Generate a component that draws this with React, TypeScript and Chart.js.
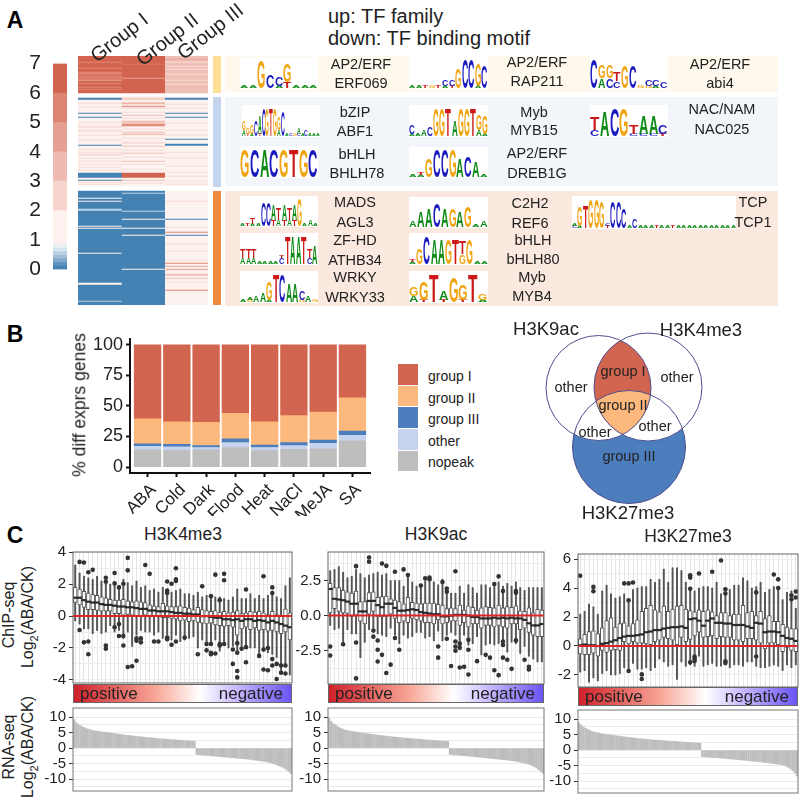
import React, { useEffect, useRef } from "react";
import { Chart, registerables } from "chart.js";

Chart.register(...registerables);

const FONT = '"Liberation Sans", Arial, sans-serif';
const INK = "#222222";

/* ---------- Panel A data ---------- */
const heatColors: Record<number, string> = {
  0: "#4682B4", 1: "#FCF2EF", 2: "#F7DCD6", 3: "#F0BFB4", 4: "#E9A697", 5: "#DF8775", 6: "#D87563", 7: "#D2654F", 8: "#BCD3E6",
};
const colITop = [[7,6],[5,1],[7,5],[5,1],[7,3],[5,2],[6,3],[5,1],[6,2],[4,1],[7,2],[5,1],[7,3],[5,1],[7,1],[5,1],[7,3]];
const colIITop = [[7,8],[6,1],[7,13],[4,1],[7,14]];
const colIIITop = [[3,3],[4,1],[3,2],[2,1],[3,3],[2,1],[3,2],[2,1],[3,4],[2,1],[3,5],[2,1],[3,3],[2,1],[3,8]];
const colIMid = [[1,1],[0,2],[1,3],[2,1],[1,3],[2,1],[1,4],[1,1],[0,1],[1,3],[0,1],[1,4],[2,1],[1,3],[2,1],[2,1],[1,2],[2,2],[1,3],[2,1],[1,4],[2,1],[1,4],[0,1],[1,3],[2,1],[1,2],[2,1],[1,1],[2,2],[1,2],[2,1],[1,2],[2,1],[1,2],[2,1],[1,2],[2,1],[1,2],[2,1],[1,2],[0,5],[1,2],[0,1],[1,1],[2,1],[1,1],[2,1],[1,1]];
const colIIMid = [[2,2],[3,1],[1,2],[2,1],[4,1],[2,1],[1,1],[5,1],[2,2],[1,3],[2,1],[1,2],[3,1],[1,2],[2,1],[1,2],[3,2],[2,1],[5,2],[3,1],[1,2],[2,1],[1,2],[3,1],[1,1],[4,1],[1,3],[2,1],[1,3],[2,2],[1,2],[3,1],[1,3],[2,1],[1,2],[3,1],[1,3],[2,1],[1,3],[3,1],[1,2],[2,1],[1,4],[2,1],[1,3],[7,5],[1,2],[3,1],[1,2],[2,1],[1,2]];
const colIIIMid = [[1,1],[0,2],[1,4],[2,1],[1,3],[2,1],[1,4],[0,1],[1,3],[0,1],[1,5],[2,1],[1,6],[2,1],[1,4],[2,1],[1,3],[0,1],[1,4],[0,2],[1,6],[2,1],[1,5],[2,1],[1,7],[2,1],[1,5],[2,1],[1,3],[2,1],[1,4],[2,1],[1,2],[2,1],[1,1]];
const colILow = [[0,7],[1,1],[0,2],[1,1],[0,7],[8,2],[0,15],[1,1],[0,1],[1,1],[0,24],[1,1],[0,29],[1,2],[0,16],[8,1],[0,3]];
const colIILow = [[0,2],[8,1],[0,17],[8,1],[0,7],[1,1],[0,8],[1,1],[0,6],[1,1],[0,33],[1,1],[0,35]];
const colIIILow = [[1,10],[2,1],[1,17],[0,1],[1,7],[2,1],[1,4],[5,1],[1,2],[0,1],[1,8],[2,1],[1,6],[2,1],[1,8],[2,1],[1,2],[5,1],[1,2],[4,1],[1,2],[4,1],[2,1],[1,3],[3,2],[1,2],[3,1],[1,3],[2,1],[1,7],[5,1],[1,14]];
const blockGaps = [4, 5];

const bandValues = [0.12,0.12,0.12,0.12,0.12,0.12,0.12,1.16,1,1,1,1,1];
const bandColors = ["#4682B4","#5F93BF","#7FA8CC","#9DBDD9","#BAD1E4","#D5E3EE","#EAF1F5","#FCF1EE","#F5D5CE","#EEBBB0","#E6A091","#DD8472","#D2654F"];
const bandTicks = [0,1,2,3,4,5,6,7];

const logoSeqs: Record<string, string[]> = {
  ERF069: ["A1","A1","G9","C4","C3A1","G6T2","A1","A1","A1"],
  RAP211: ["A1","A1","T1","G1","T1","C2A1","C2T1","G6","C9","C9","G7A1","C7"],
  abi4: ["C9","G4A3","G4C3","T3C2","G7","C7","G1","C2G1","C2A1","C2"],
  ABF1: ["G3A2","G2T1","G3A1","C5","A6T1","C9","G9","T9","G9","G4A2","C8","A1","C1","G1","A2C1","A1","C2","A1","A1","A1"],
  BHLH78: ["G9","C9","A9","C9","G9","T9","G9","C9"],
  MYB15: ["C3A1","A1","A2","C3","G9","G9","T9","A5","G9","G9","T9","G5A2","G6A1"],
  DREB1G: ["A1","T1A1","G6","C9","C9","G9","A6","C7","A5","A1"],
  NAC025: ["T4C2","A8","C9","G9","T3C1","A6C1","A6C1","C3T1"],
  AGL3: ["A1","T1","T2A1","A1","C8","C8","A5T2","T4A2","A5T2","T4A2","A5T2","G9","A1","A2","A1"],
  ATHB34: ["T3A2","T3A2","T3A2","A1","A1","A1","A1","T1C2","T9","A9","A9","T9","T3C2","A6"],
  WRKY33: ["A1","A1G1","A2","A3","G6A1","T9","C9","A6","A6","C3G1","A2","G1"],
  REF6: ["A2","A5","A6","C8","A6","G6","A5","G7","A1","A2"],
  bHLH80: ["T1A1","G5","C9","A8","A8","G8","T8","T4G3","G8","A1","A1"],
  MYB4: ["G3A2","G6T1","T9","A3T1","G8","G5T1","T9","G2A1"],
  TCP1: ["A1C1","G6A1","T7","G9","G9","G8","C1T1","C8","C8","C6","A1","C3","A1","A1","A1","T1","A1","A1","T1","A1","A1","A1","A1","A1","A1","A1","A1","A1","A1","A1"],
};
const logoColors: Record<string, string> = { A: "#0E8A16", C: "#1A1ABF", G: "#F0A412", T: "#CC1818" };
const logoWidths: Record<string, number> = { A: 0.722, C: 0.722, G: 0.778, T: 0.611 };

const motifLabels = [
  ["AP2/ERF", "ERF069"], ["AP2/ERF", "RAP211"], ["AP2/ERF", "abi4"],
  ["bZIP", "ABF1"], ["bHLH", "BHLH78"], ["Myb", "MYB15"], ["AP2/ERF", "DREB1G"], ["NAC/NAM", "NAC025"],
  ["MADS", "AGL3"], ["ZF-HD", "ATHB34"], ["WRKY", "WRKY33"], ["C2H2", "REF6"], ["bHLH", "bHLH80"], ["Myb", "MYB4"], ["TCP", "TCP1"],
];
// layout: logo box x, y, w, h, label centre x, first label y, second label y
const motifLayout = [
  [240,57,78,32,361,64,83],[409,56,79,33,537,62,81],[590,56,78,33,720,64,83],
  [242,105,78,32,355,112,131],[240,146,78,32,357,154,173],[409,105,79,32,534,112,130],[409,147,79,31,537,153,173],[590,105,78,32,722,109,129],
  [240,196,78,31,355,202,222],[240,233,78,32,355,240,260],[240,271,78,32,355,277,297],[409,197,79,31,530,203,223],[409,233,79,32,533,240,259],[409,271,79,32,532,277,296],[572,196,164,33,753,202,222],
];

/* ---------- Panel B data ---------- */
const stressNames = ["ABA", "Cold", "Dark", "Flood", "Heat", "NaCl", "MeJA", "SA"];
const nopeakPct = [14, 13.5, 14, 16, 13.5, 14.5, 15, 21.5];
const otherPct = [3, 3, 2, 4, 2.5, 3, 4.5, 4.5];
const group3Pct = [2, 2, 1.5, 3, 2, 2.5, 2.5, 3.5];
const group2Pct = [20.5, 18.5, 19, 21, 19, 22, 23, 27];
const group1Pct = [60.5, 63, 63.5, 56, 63, 58, 55, 43.5];
const legendNames = ["group I", "group II", "group III", "other", "nopeak"];
const legendColors = ["#D2654F", "#FDB87D", "#4C7EBD", "#C5D3EE", "#BEBEBE"];
const pctTicks = [0, 25, 50, 75, 100];

/* ---------- Venn ---------- */
const vennCircles = [
  { x: 108.5, y: 78, r: 52.5 },
  { x: 158, y: 77, r: 54 },
  { x: 139, y: 137, r: 56.5 },
];

/* ---------- Panel C data ---------- */
const k4Q3 = [1.8,1.7,1.55,1.45,1.35,1.3,1.2,1.15,1.05,1.0,1.0,1.05,0.95,0.9,0.95,0.9,0.85,0.7,0.65,0.6,0.8,0.65,0.6,0.6,0.65,0.55,0.5,0.4,0.55,0.4,0.35,0.3,0.35,0.25,0.3,0.2,0.25,0.35,0.15,0.2,0.3,0.25,0.3,0.2,0.1,0.3,0.1,0.05,0.45,0.2];
const k4Med = [1.15,1.15,1.0,0.9,0.85,0.85,0.75,0.7,0.7,0.65,0.6,0.6,0.55,0.55,0.5,0.45,0.45,0.35,0.35,0.3,0.3,0.3,0.25,0.2,0.2,0.15,0.15,0.1,0.1,0.0,0.0,-0.05,-0.1,-0.1,-0.2,-0.2,-0.25,-0.2,-0.3,-0.2,-0.2,-0.3,-0.25,-0.3,-0.4,-0.3,-0.4,-0.5,-0.6,-0.7];
const k4Q1 = [0.85,0.7,0.55,0.4,0.4,0.35,0.3,0.3,0.3,0.15,0.15,0.05,0.1,0.05,0.0,0.0,0.05,-0.05,0.0,-0.05,-0.1,-0.1,-0.15,-0.2,-0.3,-0.25,-0.35,-0.3,-0.4,-0.45,-0.5,-0.45,-0.55,-0.6,-0.65,-0.6,-0.7,-1.2,-0.8,-0.7,-0.85,-0.75,-0.9,-0.85,-0.95,-0.9,-1.0,-1.1,-1.0,-1.5];
const k4Lo = [-0.3,-0.5,-0.8,-0.8,-1.1,-0.9,-1.1,-1.0,-0.6,-1.0,-0.9,-1.4,-1.0,-1.9,-1.2,-0.9,-1.0,-1.0,-1.2,-1.0,-1.4,-1.2,-1.5,-1.2,-1.6,-1.5,-1.4,-1.3,-2.0,-1.5,-1.8,-1.7,-1.5,-2.2,-1.8,-2.0,-1.9,-2.3,-2.1,-1.8,-2.0,-2.0,-2.6,-2.2,-2.3,-2.4,-2.6,-3.4,-3.0,-3.7];
const k4Hi = [3.2,2.7,2.5,2.4,2.3,2.5,2.2,2.0,2.0,2.0,1.9,2.3,2.1,1.9,2.2,1.8,1.9,1.6,1.7,1.5,1.8,1.5,1.5,1.6,1.7,1.4,1.4,1.3,1.5,1.2,1.3,1.2,1.2,1.2,1.1,1.0,1.2,1.7,1.1,1.1,1.4,1.1,1.3,1.1,1.3,1.5,1.2,1.1,1.9,2.4];
const k4Out = [[1,3.4],[2,3.36],[1,-0.87],[2,-1.65],[3,-1.6],[3,2.75],[3,-2.4],[4,2.9],[7,2.4],[7,2.15],[7,-1.85],[7,-2.05],[9,2.7],[9,2.05],[9,-0.7],[10,1.8],[10,-0.5],[10,-1.25],[11,2.03],[11,-1.25],[11,-1.85],[12,3.65],[12,2.87],[12,-3.2],[13,-3.15],[14,-1.4],[14,-1.55],[14,-2.8],[15,-1.4],[15,-1.65],[16,3.2],[17,2.65],[18,-1.6],[19,-1.6],[21,2.17],[21,1.6],[21,1.45],[21,-1.35],[21,-1.45],[22,2.03],[22,-1.8],[23,3.0],[23,2.3],[23,2.2],[23,-1.6],[25,-1.35],[28,-2.4],[29,1.87],[30,-1.75],[30,-2.15],[31,1.25],[31,-1.75],[31,-2.3],[31,-2.4],[32,2.6],[32,-2.35],[33,1.0],[33,-1.75],[33,-1.85],[34,2.65],[34,2.25],[34,-1.75],[36,-2.1],[36,-3.0],[37,-1.7],[37,-2.3],[37,-3.45],[37,-3.85],[38,-2.05],[39,1.67],[39,-1.95],[39,-2.9],[42,-2.5],[43,2.5],[43,-2.1],[43,-3.35],[44,-2.0],[44,-3.4],[45,1.8],[45,1.45],[45,-2.7],[45,-3.1],[46,-3.0],[46,-3.95],[47,-3.1],[47,-3.55],[48,-3.1],[48,-3.6]];

const k9Q3 = [2.3,2.0,2.0,1.8,1.7,1.6,1.75,1.0,1.0,1.65,1.7,1.3,1.35,1.4,1.2,1.1,1.0,0.85,1.3,0.95,0.9,0.85,0.9,0.9,0.9,0.8,0.75,0.5,0.55,0.5,0.75,0.4,0.7,0.6,0.4,0.55,0.65,0.6,0.55,0.75,0.55,0.65,0.6,0.7,0.35,0.3,0.55,0.2,0.45,0.4];
const k9Med = [1.9,1.2,1.15,1.1,1.0,0.85,0.85,0.3,0.3,1.05,1.05,0.75,0.6,0.85,0.85,0.55,0.35,0.35,0.4,0.45,0.4,0.25,0.2,0.15,0.1,0.1,-0.05,-0.05,0.0,0.05,0.05,0.05,0.0,-0.1,-0.1,-0.2,-0.2,-0.2,-0.15,-0.2,-0.15,-0.2,-0.15,-0.2,-0.2,-0.3,-0.55,-0.7,-0.7,-0.6];
const k9Q1 = [0.2,0.5,0.3,0.2,0.15,-0.05,0.0,-0.4,-0.6,0.1,0.3,-0.1,-0.1,-0.05,0.1,-0.2,-0.5,-0.4,-0.5,-0.2,-0.3,-0.4,-0.5,-0.5,-0.6,-0.3,-0.6,-0.5,-0.4,-0.4,-0.7,-0.5,-0.8,-0.6,-0.6,-0.9,-0.7,-0.7,-0.8,-0.7,-0.8,-0.9,-0.6,-0.6,-1.0,-0.9,-1.2,-1.4,-1.5,-1.5];
const k9Lo = [-0.7,-1.0,-0.9,-2.0,-1.0,-1.3,-1.3,-3.0,-1.9,-1.0,-0.9,-1.3,-1.4,-1.5,-0.9,-1.4,-2.0,-1.4,-1.6,-1.5,-1.2,-1.2,-1.6,-1.5,-1.8,-1.1,-1.8,-1.4,-1.2,-1.4,-2.2,-1.4,-2.1,-2.0,-1.5,-2.8,-2.1,-2.0,-2.1,-2.0,-2.0,-2.6,-1.9,-2.0,-2.7,-2.2,-2.9,-3.1,-3.3,-3.3];
const k9Hi = [3.2,3.3,3.5,3.1,2.7,2.8,3.3,3.0,2.7,2.9,3.0,3.1,2.9,3.0,2.5,2.5,2.5,2.1,3.0,2.4,2.1,2.1,2.5,2.4,2.4,2.2,2.6,1.7,1.6,1.6,2.1,1.6,2.2,2.0,1.6,2.2,2.2,2.0,2.1,2.4,2.1,2.3,2.1,2.4,2.0,1.8,2.0,2.0,2.0,2.0];
const k9Out = [[0,-2.2],[0,-2.85],[3,-2.04],[6,3.53],[6,-1.92],[6,-4.48],[9,4.15],[9,3.84],[10,-1.07],[10,-1.5],[11,-1.78],[11,-2.44],[11,-3.27],[12,3.72],[12,-2.8],[13,3.55],[13,-4.1],[14,-3.5],[15,3.13],[15,-1.6],[16,-2.44],[17,3.3],[18,2.9],[21,2.15],[22,2.67],[23,2.72],[23,2.58],[25,-2.2],[25,-3.0],[26,2.4],[27,1.94],[27,1.7],[27,-1.65],[28,-3.6],[29,3.17],[29,-1.85],[29,-2.2],[29,-2.5],[30,-2.0],[30,-2.3],[30,-3.7],[31,-3.65],[32,-1.73],[32,-2.44],[32,-4.2],[34,-3.25],[36,-2.8],[37,-3.0],[38,2.25],[38,-3.9],[39,2.8],[39,-4.25],[40,1.75],[40,-1.85],[40,-2.1],[40,-3.0],[41,-3.15],[42,-3.8],[43,1.75],[43,1.63],[43,-1.77],[45,-3.15],[46,-3.65],[46,-3.85]];

const k27Q3 = [0.5,0.8,1.0,1.05,0.85,1.25,1.75,1.95,1.3,1.55,1.6,1.4,1.55,1.8,2.4,2.6,2.8,2.5,2.35,2.75,2.4,2.55,2.75,2.8,2.55,2.45,2.35,2.5,2.4,2.5,2.35,2.1,2.3,2.3,2.1,2.2,2.2,2.8,2.3,2.4,2.1,2.4,1.9,2.1,1.7,1.7,1.5,1.3,1.2,1.2];
const k27Med = [0.05,0.1,0.05,0.05,0.0,0.15,0.2,0.3,0.4,0.55,0.65,0.7,0.7,0.75,0.8,0.95,1.0,1.1,1.1,1.2,1.25,1.3,1.3,1.35,1.25,1.85,1.9,1.75,1.4,1.75,1.9,1.6,1.6,1.55,1.55,1.45,1.45,1.45,1.35,1.25,1.6,1.55,0.95,1.0,1.0,0.95,0.7,0.55,0.5,0.35];
const k27Q1 = [-0.55,-0.6,-0.6,-0.5,-0.7,-0.3,-0.45,-0.3,-0.25,-0.3,0.3,0.15,0.3,0.2,0.2,0.15,0.1,0.3,0.4,0.6,0.5,0.4,0.1,0.6,0.3,0.45,0.7,0.95,0.6,0.65,0.7,0.5,0.65,0.6,0.6,0.4,0.4,0.3,0.5,0.5,0.4,0.2,-0.2,0.2,0.2,0.1,-0.4,-0.1,-0.3,-0.4];
const k27Lo = [-1.8,-1.7,-2.5,-2.2,-2.4,-1.9,-1.7,-2.0,-2.0,-1.9,-1.5,-1.8,-1.2,-1.6,-1.6,-1.5,-1.7,-1.5,-0.9,-1.1,-1.4,-1.3,-2.3,-1.1,-1.4,-1.3,-1.4,-0.7,-1.4,-1.3,-1.2,-1.4,-1.4,-1.2,-1.5,-1.3,-1.3,-1.4,-1.1,-1.1,-1.4,-1.5,-1.5,-1.4,-1.3,-1.4,-1.7,-1.3,-1.5,-1.3];
const k27Hi = [2.2,2.4,2.9,2.7,2.2,3.8,4.2,3.6,3.3,3.4,3.6,3.0,3.9,4.0,4.1,4.1,4.6,4.4,4.6,5.3,4.4,5.4,5.4,5.2,4.4,4.0,3.8,4.0,4.1,4.1,4.0,4.4,3.6,4.0,3.9,4.2,4.2,4.7,4.5,4.0,4.1,4.4,3.7,3.9,4.1,3.9,3.2,3.7,3.8,2.6];
const k27Out = [[0,4.85],[3,4.08],[3,3.78],[10,4.32],[11,4.32],[12,4.38],[11,3.15],[11,-1.73],[14,-1.96],[14,-2.28],[25,4.88],[25,4.72],[25,3.95],[25,-1.13],[26,-0.72],[26,-0.88],[26,-1.04],[27,5.0],[30,5.12],[32,5.9],[33,3.92],[33,3.62],[33,-1.06],[33,-1.18],[40,3.7],[40,-0.72],[44,4.94],[45,4.6],[45,4.0],[48,3.5],[48,3.23],[49,3.76],[49,3.35]];

const rnaK4 = [9.2,8.2,7.6,7.2,6.8,6.5,6.2,6.0,5.8,5.6,5.5,5.4,5.3,5.2,5.1,5.0,4.9,4.8,4.7,4.6,4.5,4.4,4.3,4.2,4.1,4.05,4.0,3.9,3.8,3.7,3.65,3.6,3.5,3.45,3.4,3.3,3.25,3.2,3.1,3.05,3.0,2.95,2.9,2.8,2.75,2.7,2.65,2.6,2.55,2.5,2.45,2.4,2.35,2.3,2.25,2.2,-2.0,-2.1,-2.15,-2.2,-2.3,-2.35,-2.4,-2.5,-2.55,-2.6,-2.7,-2.75,-2.8,-2.9,-2.95,-3.0,-3.1,-3.15,-3.2,-3.3,-3.35,-3.4,-3.5,-3.55,-3.6,-3.7,-3.8,-3.9,-4.0,-4.1,-4.2,-4.3,-4.4,-4.6,-4.8,-5.0,-5.2,-5.5,-5.8,-6.1,-6.5,-7.0,-7.5,-8.2];
const rnaK9 = [9.6,8.6,7.9,7.4,6.9,6.5,6.2,5.9,5.7,5.6,5.4,5.3,5.2,5.1,5.0,4.9,4.8,4.7,4.6,4.5,4.4,4.3,4.25,4.15,4.05,4.0,3.9,3.8,3.75,3.65,3.6,3.5,3.45,3.4,3.3,3.25,3.2,3.1,3.05,3.0,2.95,2.9,2.85,2.8,2.7,2.65,2.6,2.55,2.5,2.45,2.4,2.35,2.3,2.25,2.2,2.1,-2.0,-2.05,-2.15,-2.2,-2.25,-2.35,-2.4,-2.45,-2.55,-2.6,-2.65,-2.75,-2.8,-2.9,-2.95,-3.0,-3.1,-3.15,-3.25,-3.3,-3.4,-3.45,-3.5,-3.6,-3.65,-3.7,-3.8,-3.9,-4.0,-4.1,-4.2,-4.3,-4.45,-4.6,-4.75,-4.9,-5.1,-5.35,-5.6,-6.0,-6.4,-6.9,-7.5,-8.1];
const rnaK27 = [8.8,8.0,7.4,7.0,6.6,6.3,6.0,5.8,5.6,5.5,5.3,5.2,5.1,5.0,4.9,4.8,4.7,4.6,4.5,4.4,4.3,4.2,4.15,4.05,4.0,3.9,3.8,3.7,3.65,3.6,3.5,3.45,3.4,3.3,3.25,3.2,3.15,3.1,3.05,3.0,2.95,2.9,2.85,2.8,2.75,2.7,2.65,2.6,2.55,2.5,2.45,2.4,2.35,2.3,2.25,2.2,-2.1,-2.15,-2.2,-2.25,-2.3,-2.35,-2.4,-2.45,-2.5,-2.6,-2.65,-2.7,-2.8,-2.85,-2.9,-3.0,-3.05,-3.1,-3.2,-3.25,-3.3,-3.4,-3.5,-3.55,-3.6,-3.7,-3.8,-3.85,-3.95,-4.0,-4.1,-4.2,-4.3,-4.4,-4.5,-4.6,-4.75,-4.9,-5.1,-5.5,-6.0,-6.6,-7.3,-8.3];

const k4Ticks = [4,3,2,1,0,-1,-2,-3,-4];
const k4Major = [4,2,0,-2,-4];
const k9Ticks = [3.75,2.5,1.25,0,-1.25,-2.5,-3.75];
const k9Major = [2.5,0,-2.5];
const k27Ticks = [6,5,4,3,2,1,0,-1,-2];
const k27Major = [6,4,2,0,-2];
const rnaTicks = [10,7.5,5,2.5,0,-2.5,-5,-7.5,-10,-12.5];
const rnaMajor = [10,5,0,-5,-10];
const redLineValue = 0;

/* ---------- helpers ---------- */
const expandRuns = (runs: number[][]) => runs.flatMap(([v, n]) => Array(n).fill(v));
const framePlugin = (color: string) => ({
  id: "frame",
  afterDraw(chart: any) {
    const { left, top, width, height } = chart.chartArea;
    const c = chart.ctx;
    c.save();
    c.strokeStyle = color;
    c.lineWidth = 1;
    c.strokeRect(left, top, width, height);
    c.restore();
  },
});

function ChartCanvas({ left, top, width, height, config }: any) {
  const ref = useRef<HTMLCanvasElement>(null);
  useEffect(() => {
    const chart = new Chart(ref.current as any, config);
    return () => chart.destroy();
  }, []);
  return <canvas ref={ref} width={width} height={height} style={{ position: "absolute", left, top, width, height }} />;
}

function Txt({ x, y, size = 14, rot = 0, bold = false, color = INK, children }: any) {
  return (
    <div style={{ position: "absolute", left: x, top: y, transform: `translate(-50%,-50%) rotate(${rot}deg)`, fontSize: size, fontWeight: bold ? 700 : 400, color, whiteSpace: "nowrap", lineHeight: 1 }}>
      {children}
    </div>
  );
}

function Logo({ seq, x, y, w, h }: any) {
  const cw = w / seq.length;
  const F = 20;
  const base = 0.8465 * F;
  const glyphs: any[] = [];
  seq.forEach((col: string, i: number) => {
    const parts = [...col.matchAll(/([ACGT])(\d)/g)].reverse();
    let bottom = y + h - 1;
    parts.forEach((p, j) => {
      const letter = p[1];
      const digit = Number(p[2]);
      const hh = (digit === 1 ? 0.06 : digit / 10) * h;
      const sx = (cw * 0.96) / (logoWidths[letter] * F);
      const sy = hh / (0.729 * F);
      glyphs.push(
        <span key={`${i}-${j}`} style={{ position: "absolute", left: x + i * cw, top: bottom - base, fontSize: F, lineHeight: `${F}px`, fontWeight: 700, color: logoColors[letter], transformOrigin: `0 ${base}px`, transform: `scale(${sx},${sy})` }}>
          {letter}
        </span>
      );
      bottom -= hh;
    });
  });
  return (
    <>
      <div style={{ position: "absolute", left: x, top: y, width: w, height: h, background: "#fff" }} />
      {glyphs}
    </>
  );
}

/* ---------- chart configs ---------- */
function heatConfig() {
  const gapA = Array(blockGaps[0]).fill(null);
  const gapB = Array(blockGaps[1]).fill(null);
  const cols = [
    [...expandRuns(colITop), ...gapA, ...expandRuns(colIMid), ...gapB, ...expandRuns(colILow)],
    [...expandRuns(colIITop), ...gapA, ...expandRuns(colIIMid), ...gapB, ...expandRuns(colIILow)],
    [...expandRuns(colIIITop), ...gapA, ...expandRuns(colIIIMid), ...gapB, ...expandRuns(colIIILow)],
  ];
  return {
    type: "bar",
    data: {
      labels: cols[0].map((_, i) => String(i)),
      datasets: cols.map((col, i) => ({
        label: ["Group I", "Group II", "Group III"][i],
        data: col.map((v) => (v === null ? null : 1)),
        backgroundColor: col.map((v) => (v === null ? "transparent" : heatColors[v as number])),
        barPercentage: 1,
        categoryPercentage: 1,
        borderWidth: 0,
      })),
    },
    options: {
      indexAxis: "y",
      responsive: false,
      animation: false,
      layout: { padding: 0, autoPadding: false },
      plugins: { legend: { display: false }, tooltip: { enabled: false } },
      scales: {
        x: { display: false, stacked: true, min: 0, max: 3 },
        y: { display: false, stacked: true },
      },
    },
  };
}

function colorbarConfig() {
  return {
    type: "bar",
    data: {
      labels: ["score"],
      datasets: bandValues.map((v, i) => ({ data: [v], backgroundColor: bandColors[i], borderWidth: 0, barPercentage: 1, categoryPercentage: 1 })),
    },
    options: {
      responsive: false,
      animation: false,
      layout: { padding: { top: 15, bottom: 15, left: 0, right: 0 }, autoPadding: false },
      plugins: { legend: { display: false }, tooltip: { enabled: false } },
      scales: {
        x: { stacked: true, display: false },
        y: {
          stacked: true, min: 0, max: 7,
          border: { display: false },
          grid: { display: false },
          afterFit: (s: any) => { s.width = 33; },
          afterBuildTicks: (s: any) => { s.ticks = bandTicks.map((value) => ({ value })); },
          ticks: { font: { family: FONT, size: 21 }, color: INK, padding: 4 },
        },
      },
    },
  };
}

function stressConfig() {
  const series = [nopeakPct, otherPct, group3Pct, group2Pct, group1Pct];
  return {
    type: "bar",
    data: {
      datasets: series.map((vals, k) => ({
        label: legendNames[4 - k],
        data: vals.map((y, x) => ({ x, y })),
        backgroundColor: legendColors[4 - k],
        barThickness: 26.7,
        borderWidth: 0,
      })),
    },
    options: {
      responsive: false,
      animation: false,
      layout: { padding: { top: 12, right: 15, bottom: 0, left: 0 }, autoPadding: false },
      plugins: { legend: { display: false }, tooltip: { enabled: false } },
      scales: {
        x: {
          type: "linear", stacked: true, min: -0.6, max: 7.6, offset: false,
          border: { color: "#111", width: 2 },
          grid: { offset: false, drawOnChartArea: false, tickColor: "#111", tickWidth: 2, tickLength: 4 },
          afterFit: (s: any) => { s.height = 43; },
          afterBuildTicks: (s: any) => { s.ticks = stressNames.map((_, value) => ({ value })); },
          ticks: { autoSkip: false, font: { family: FONT, size: 17 }, color: INK, maxRotation: 45, minRotation: 45, padding: 3, labelOffset: 6, callback: (v: any) => stressNames[v] },
        },
        y: {
          stacked: true, min: -4.84, max: 104.84,
          border: { color: "#111", width: 2 },
          grid: { drawOnChartArea: false, tickColor: "#111", tickWidth: 2, tickLength: 4 },
          afterFit: (s: any) => { s.width = 70; },
          afterBuildTicks: (s: any) => { s.ticks = pctTicks.map((value) => ({ value })); },
          ticks: { font: { family: FONT, size: 18 }, color: INK, padding: 3 },
        },
      },
    },
  };
}

function vennConfig() {
  const fills = {
    id: "vennFills",
    beforeDatasetsDraw(chart: any) {
      const { ctx: c, scales } = chart;
      const path = (k: number) => {
        const p = vennCircles[k];
        c.beginPath();
        c.arc(scales.x.getPixelForValue(p.x), scales.y.getPixelForValue(p.y), p.r, 0, Math.PI * 2);
      };
      c.save();
      path(2); c.fillStyle = "#4C7EBD"; c.fill();
      c.fillStyle = "#ffffff";
      path(0); c.fill();
      path(1); c.fill();
      c.save(); path(0); c.clip();
      path(1); c.fillStyle = "#D2654F"; c.fill();
      path(1); c.clip();
      path(2); c.fillStyle = "#FDB87D"; c.fill();
      c.restore();
      c.restore();
    },
  };
  return {
    type: "bubble",
    data: {
      datasets: vennCircles.map((p) => ({ data: [p], backgroundColor: "transparent", borderColor: "#4F4F8F", borderWidth: 1, clip: false })),
    },
    options: {
      responsive: false,
      animation: false,
      layout: { padding: 0, autoPadding: false },
      plugins: { legend: { display: false }, tooltip: { enabled: false } },
      scales: {
        x: { display: false, min: 0, max: 310 },
        y: { display: false, min: 0, max: 220, reverse: true },
      },
    },
    plugins: [fills],
  };
}

function boxConfig(s: any) {
  const n = s.q1.length;
  return {
    type: "bar",
    data: {
      datasets: [
        { type: "line", data: [{ x: -0.5, y: redLineValue }, { x: n - 0.5, y: redLineValue }], borderColor: "#E0242A", borderWidth: 2, pointRadius: 0, order: 1 },
        { type: "scatter", data: s.out.map(([x, y]: number[]) => ({ x, y })), backgroundColor: "#333", borderWidth: 0, pointRadius: 2.3, order: 2 },
        { type: "line", showLine: false, data: s.med.map((y: number, x: number) => ({ x, y })), pointStyle: "line", pointRadius: 2.6, pointBorderWidth: 2.2, pointBorderColor: "#2A2A2A", order: 3 },
        { type: "bar", grouped: false, data: s.q1.map((v: number, x: number) => ({ x, y: [v, s.q3[x]] })), backgroundColor: "#fff", borderColor: "#555", borderWidth: 1, borderSkipped: false, barThickness: 3.8, order: 4 },
        { type: "bar", grouped: false, data: s.lo.map((v: number, x: number) => ({ x, y: [v, s.hi[x]] })), backgroundColor: "#555", borderWidth: 0, barThickness: 1.3, order: 5 },
      ],
    },
    options: {
      responsive: false,
      animation: false,
      layout: { padding: { top: 12, bottom: 12, left: 0, right: 4 }, autoPadding: false },
      plugins: { legend: { display: false }, tooltip: { enabled: false } },
      scales: {
        x: {
          type: "linear", min: -0.5, max: n - 0.5, offset: false,
          border: { display: false },
          grid: { offset: false, color: "#E6E6E6", lineWidth: 1, drawTicks: false },
          ticks: { display: false, autoSkip: false },
          afterFit: (a: any) => { a.height = 0; },
          afterBuildTicks: (a: any) => { a.ticks = s.q1.map((_: number, value: number) => ({ value })); },
        },
        y: {
          min: s.ymin, max: s.ymax,
          border: { display: false },
          grid: { color: "#EEEEEE", tickLength: 4, tickColor: (c: any) => (s.major.includes(c.tick?.value) ? "#333" : "transparent") },
          afterFit: (a: any) => { a.width = 44; },
          afterBuildTicks: (a: any) => { a.ticks = s.ticks.map((value: number) => ({ value })); },
          ticks: {
            autoSkip: false, font: { family: FONT, size: 15 }, color: INK, padding: 3,
            callback: (v: number) => (s.major.includes(v) ? (s.fixed ? v.toFixed(1) : String(v)) : ""),
          },
        },
      },
    },
    plugins: [framePlugin("#666")],
  };
}

function rnaConfig(values: number[], ymin: number, ymax: number) {
  return {
    type: "bar",
    data: {
      datasets: [{ data: values.map((y, x) => ({ x, y })), backgroundColor: "#BDBDBD", borderWidth: 0, barThickness: 1.7 }],
    },
    options: {
      responsive: false,
      animation: false,
      layout: { padding: { top: 8, bottom: 8, left: 0, right: 4 }, autoPadding: false },
      plugins: { legend: { display: false }, tooltip: { enabled: false } },
      scales: {
        x: { type: "linear", display: false, offset: false, min: -0.5, max: values.length - 0.5 },
        y: {
          min: ymin, max: ymax,
          border: { display: false },
          grid: { color: "#EBEBEB", tickLength: 4, tickColor: (c: any) => (rnaMajor.includes(c.tick?.value) ? "#333" : "transparent") },
          afterFit: (a: any) => { a.width = 44; },
          afterBuildTicks: (a: any) => { a.ticks = rnaTicks.map((value) => ({ value })); },
          ticks: { autoSkip: false, font: { family: FONT, size: 15 }, color: INK, padding: 3, callback: (v: number) => (rnaMajor.includes(v) ? String(v) : "") },
        },
      },
    },
    plugins: [framePlugin("#777")],
  };
}

const columns = [
  { title: "H3K4me3", tx: 183, ty: 535, l: 73, w: 219, boxT: 552, boxH: 131, gradT: 684, rnaT: 704, rnaH: 91,
    box: { q1: k4Q1, med: k4Med, q3: k4Q3, lo: k4Lo, hi: k4Hi, out: k4Out, ymin: -4.2, ymax: 4.02, ticks: k4Ticks, major: k4Major }, rna: rnaK4 },
  { title: "H3K9ac", tx: 436, ty: 535, l: 328, w: 216, boxT: 552, boxH: 132, gradT: 684, rnaT: 704, rnaH: 91,
    box: { q1: k9Q1, med: k9Med, q3: k9Q3, lo: k9Lo, hi: k9Hi, out: k9Out, ymin: -4.88, ymax: 4.54, ticks: k9Ticks, major: k9Major, fixed: true }, rna: rnaK9 },
  { title: "H3K27me3", tx: 688, ty: 537, l: 578, w: 220, boxT: 554, boxH: 133, gradT: 687, rnaT: 706, rnaH: 91,
    box: { q1: k27Q1, med: k27Med, q3: k27Q3, lo: k27Lo, hi: k27Hi, out: k27Out, ymin: -2.83, ymax: 6.35, ticks: k27Ticks, major: k27Major }, rna: rnaK27 },
];

const panelRects = [
  { y: 56, h: 36, strip: "#FDDF96", bg: "#FEF9EC", stripH: 37 },
  { y: 97, h: 89, strip: "#C6D5EE", bg: "#F2F6FB", stripH: 90 },
  { y: 191, h: 115, strip: "#EF8B40", bg: "#FBE9DF", stripH: 114 },
];

export default function App() {
  return (
    <div style={{ position: "absolute", left: 0, top: 0, width: 800, height: 800, background: "#fff", overflow: "hidden", fontFamily: FONT }}>
      <Txt x={15} y={20} size={23} bold color="#000">A</Txt>
      <Txt x={15} y={334} size={23} bold color="#000">B</Txt>
      <Txt x={15} y={535} size={23} bold color="#000">C</Txt>

      {/* Panel A */}
      <ChartCanvas left={20} top={47} width={47} height={239} config={colorbarConfig()} />
      <ChartCanvas left={78} top={56} width={130} height={249} config={heatConfig()} />
      <Txt x={119} y={37} size={20} rot={-38}>Group I</Txt>
      <Txt x={167} y={39} size={20} rot={-38}>Group II</Txt>
      <Txt x={210} y={31} size={20} rot={-38}>Group III</Txt>
      <div style={{ position: "absolute", left: 328, top: 5, fontSize: 20, color: INK, lineHeight: "22px", whiteSpace: "nowrap" }}>
        up: TF family<br />down: TF binding motif
      </div>
      {panelRects.map((p, i) => (
        <React.Fragment key={i}>
          <div style={{ position: "absolute", left: 213, top: p.y, width: 8, height: p.stripH, background: p.strip }} />
          <div style={{ position: "absolute", left: 225, top: p.y, width: 553, height: p.h, background: p.bg }} />
        </React.Fragment>
      ))}
      {motifLayout.map((m, i) => (
        <React.Fragment key={i}>
          <Logo seq={logoSeqs[motifLabels[i][1]]} x={m[0]} y={m[1]} w={m[2]} h={m[3]} />
          <Txt x={m[4]} y={m[5]} size={14.5}>{motifLabels[i][0]}</Txt>
          <Txt x={m[4]} y={m[6]} size={14.5}>{motifLabels[i][1]}</Txt>
        </React.Fragment>
      ))}

      {/* Panel B */}
      <ChartCanvas left={60} top={325} width={325} height={191} config={stressConfig()} />
      <Txt x={80} y={405} size={17.5} rot={-90}>% diff exprs genes</Txt>
      {legendNames.map((name, i) => (
        <React.Fragment key={name}>
          <div style={{ position: "absolute", left: 398, top: 364 + i * 21.7, width: 20, height: 20.5, background: legendColors[i] }} />
          <div style={{ position: "absolute", left: 428, top: 367 + i * 21.5, fontSize: 14, lineHeight: "18px", color: INK }}>{name}</div>
        </React.Fragment>
      ))}

      {/* Venn */}
      <ChartCanvas left={490} top={310} width={310} height={220} config={vennConfig()} />
      <Txt x={546} y={329} size={18.5}>H3K9ac</Txt>
      <Txt x={701} y={330} size={18.5}>H3K4me3</Txt>
      <Txt x={628} y={513} size={18.5}>H3K27me3</Txt>
      <Txt x={623} y={371} size={14.5}>group I</Txt>
      <Txt x={571} y={387} size={14.5}>other</Txt>
      <Txt x={677} y={377} size={14.5}>other</Txt>
      <Txt x={623} y={405} size={14.5}>group II</Txt>
      <Txt x={595} y={432} size={14.5}>other</Txt>
      <Txt x={655} y={426} size={14.5}>other</Txt>
      <Txt x={629} y={456} size={14.5}>group III</Txt>

      {/* Panel C */}
      <Txt x={9} y={615} size={16} rot={-90}>ChIP-seq</Txt>
      <Txt x={30} y={617} size={16} rot={-90}>Log<sub style={{ fontSize: 11 }}>2</sub>(ABA/CK)</Txt>
      <Txt x={9} y={747} size={16} rot={-90}>RNA-seq</Txt>
      <Txt x={30} y={747} size={16} rot={-90}>Log<sub style={{ fontSize: 11 }}>2</sub>(ABA/CK)</Txt>
      {columns.map((c) => (
        <React.Fragment key={c.title}>
          <Txt x={c.tx} y={c.ty} size={17.5}>{c.title}</Txt>
          <ChartCanvas left={c.l - 44} top={c.boxT - 12} width={c.w + 48} height={c.boxH + 24} config={boxConfig(c.box)} />
          <div style={{ position: "absolute", left: c.l, top: c.gradT, width: c.w, height: 19, boxSizing: "border-box", border: "1px solid #666", background: "linear-gradient(90deg,#D0202A 0%,#F8A898 38%,#FFFFFF 58%,#C8B8FF 75%,#6A55F5 100%)" }} />
          <div style={{ position: "absolute", left: c.l + 7, top: c.gradT + 1, fontSize: 17, lineHeight: "18px", color: INK }}>positive</div>
          <div style={{ position: "absolute", left: c.l + c.w - 9, top: c.gradT + 1, transform: "translateX(-100%)", fontSize: 17, lineHeight: "18px", color: INK }}>negative</div>
          <ChartCanvas left={c.l - 44} top={c.rnaT - 8} width={c.w + 48} height={c.rnaH + 16} config={rnaConfig(c.rna, -13.8, 12.9)} />
        </React.Fragment>
      ))}
    </div>
  );
}
